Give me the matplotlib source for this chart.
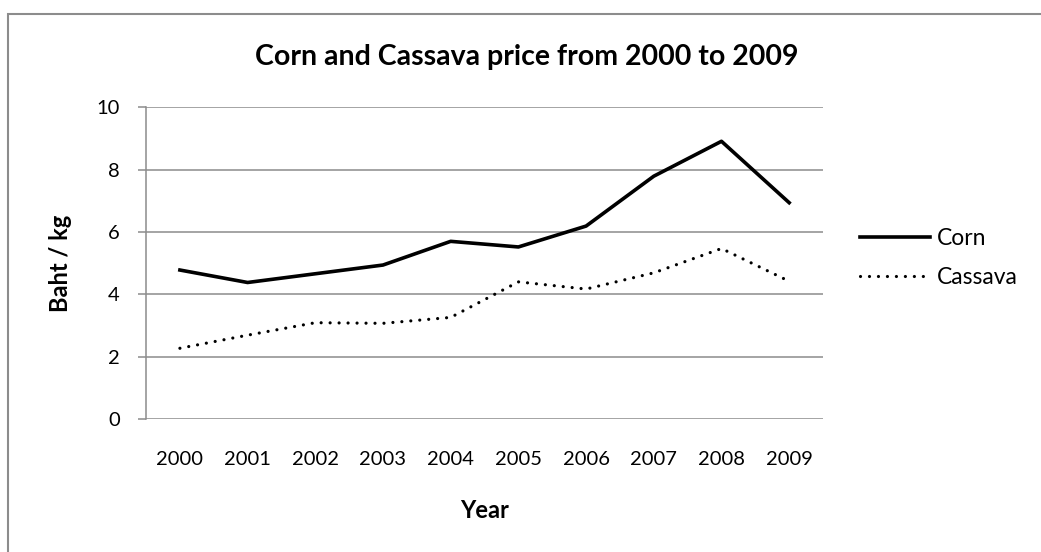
import matplotlib.pyplot as plt
import matplotlib as mpl
from matplotlib.patches import Rectangle

years = ['2000', '2001', '2002', '2003', '2004', '2005', '2006', '2007', '2008', '2009']
corn = [4.78, 4.38, 4.66, 4.94, 5.70, 5.52, 6.19, 7.79, 8.91, 6.94]
cassava = [2.27, 2.69, 3.09, 3.07, 3.26, 4.40, 4.17, 4.69, 5.47, 4.42]

mpl.rcParams['font.family'] = ['Lato', 'DejaVu Sans']
grey = '#8c8c8c'

fig = plt.figure(figsize=(10.41, 5.52), dpi=100)
# chart border (right and bottom edges fall outside the picture)
fig.patches.append(Rectangle((0.0080, -0.05), 1.1, 0.9746 + 0.05, transform=fig.transFigure,
                             fill=False, edgecolor=grey, linewidth=1.5))

ax = fig.add_axes([0.1403, 0.2409, 0.6503, 0.5647])
x = range(len(years))
ax.plot(x, corn, color='black', linewidth=2.6, label='Corn')
ax.plot(x, cassava, color='black', linewidth=2.3, linestyle=(0, (0.01, 2.8)),
        dash_capstyle='round', label='Cassava')

ax.set_xlim(-0.5, 9.5)
ax.set_ylim(0, 10)
ax.set_yticks([0, 2, 4, 6, 8, 10])
ax.set_xticks(list(x))
ax.set_xticklabels(years)
ax.grid(axis='y', color=grey, linewidth=1.1)
ax.set_axisbelow(True)
for s in ['top', 'right', 'bottom']:
    ax.spines[s].set_visible(False)
ax.spines['left'].set_color(grey)
ax.spines['left'].set_linewidth(1.1)
ax.tick_params(axis='y', length=5.8, color=grey, width=1.1, pad=13, labelsize=14.5)
ax.tick_params(axis='x', length=0, pad=23, labelsize=14.5)

fig.text(0.5063, 0.882, 'Corn and Cassava price from 2000 to 2009', fontsize=20.5,
         fontweight='bold', ha='center', va='baseline')
ax.set_xlabel('Year', fontsize=17, fontweight='bold', labelpad=22)
fig.text(0.058, 0.5236, 'Baht / kg', fontsize=17, fontweight='bold', rotation=90,
         ha='center', va='center')

ax.legend(loc='center left', bbox_to_anchor=(0.8155, 0.5326), bbox_transform=fig.transFigure,
          frameon=False, fontsize=16.5, borderpad=0, handlelength=3.05, handletextpad=0.3,
          labelspacing=0.8)

fig.savefig('out.png', dpi=100)
